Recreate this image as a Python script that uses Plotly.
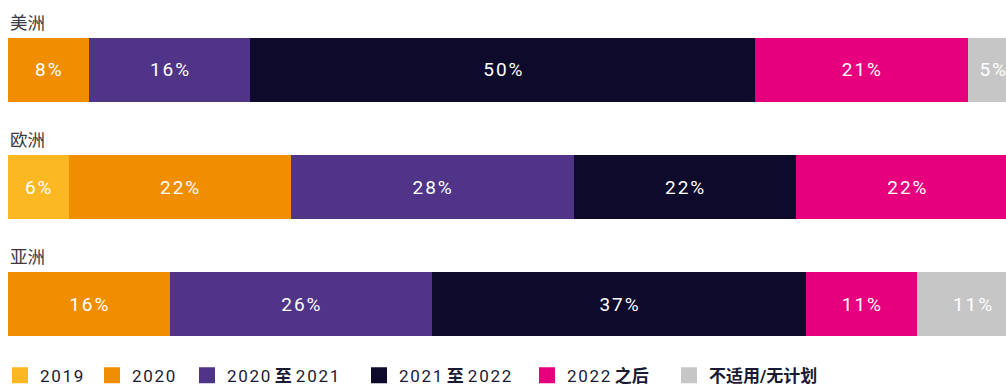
import plotly.graph_objects as go

# Regions (top to bottom) and timeline buckets
regions = ["美洲", "欧洲", "亚洲"]
buckets = ["2019", "2020", "2020 至 2021", "2021 至 2022", "2022 之后", "不适用/无计划"]

# Share of respondents per bucket, in percent, one list per bucket (order follows regions)
v_2019 = [0, 6, 0]
v_2020 = [8, 22, 16]
v_2020_2021 = [16, 28, 26]
v_2021_2022 = [50, 22, 37]
v_after_2022 = [21, 22, 11]
v_na = [5, 0, 11]

series = [v_2019, v_2020, v_2020_2021, v_2021_2022, v_after_2022, v_na]
colors = ["#FBB822", "#F18E00", "#4F3487", "#0D0A2B", "#E6007E", "#C6C6C6"]
legend_widths = [47, 50, 127, 123, 97, 130]

HS = "\u200a"  # hair space, widens the digit tracking


def spaced(s):
    return HS.join(s)


def legend_label(name):
    # digits get wider tracking, Chinese words are set in bold
    parts = []
    for word in name.split(" "):
        if word[0].isdigit():
            parts.append(spaced(word))
        else:
            parts.append(f"<b>{word}</b>")
    return " ".join(parts)


ypos = list(range(len(regions)))
label_font = "Roboto, 'Noto Sans CJK SC', sans-serif"

fig = go.Figure()
for name, vals, col, lw in zip(buckets, series, colors, legend_widths):
    fig.add_trace(go.Bar(
        y=ypos, x=vals, orientation="h", name=name,
        marker=dict(color=col, line=dict(width=0)),
        text=[spaced(f"{v}%") if v else "" for v in vals],
        textposition="inside", insidetextanchor="middle",
        textfont=dict(color="white", size=19, family=label_font),
        width=0.547, showlegend=False, hoverinfo="skip",
    ))
    # legend swatch
    fig.add_trace(go.Scatter(
        x=[None], y=[None], mode="markers", name=legend_label(name),
        marker=dict(symbol="square", size=18, color=col),
        showlegend=True, legendwidth=lw,
    ))

# region titles above each bar
for i, r in enumerate(regions):
    fig.add_annotation(
        x=0, xref="x", y=i - 0.416, yref="y", text=r, showarrow=False,
        xanchor="left", yanchor="middle",
        font=dict(size=17.5, color="#3a3a46", family="'Noto Sans CJK SC', sans-serif"),
    )

fig.update_layout(
    width=1006, height=385,
    margin=dict(l=0, r=0, t=0, b=0, autoexpand=False),
    barmode="stack",
    plot_bgcolor="white", paper_bgcolor="white",
    xaxis=dict(range=[-0.792, 98.81], visible=False, fixedrange=True),
    yaxis=dict(range=[2.692, -0.598], visible=False, fixedrange=True),
    legend=dict(
        orientation="h", x=0, xanchor="left", y=0.024, yanchor="middle",
        traceorder="normal",
        font=dict(size=17, color="#1a1a33", family="Roboto, 'Noto Sans CJK SC', sans-serif"),
        itemwidth=30, bgcolor="rgba(0,0,0,0)",
    ),
    showlegend=True,
)

fig.write_html("out.html")
